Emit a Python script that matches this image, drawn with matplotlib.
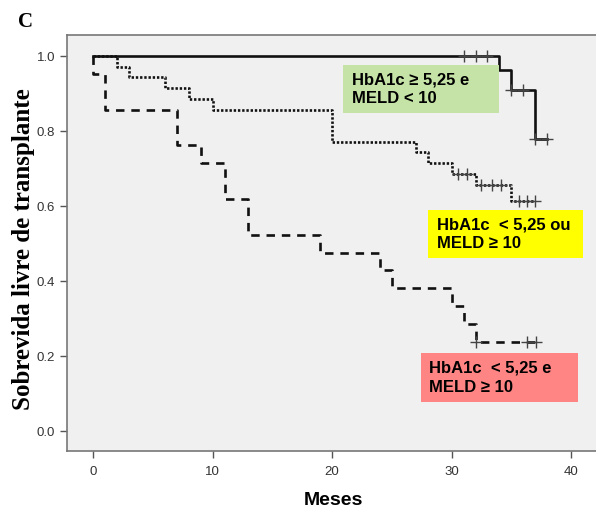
import numpy as np
import matplotlib
matplotlib.use("Agg")
import matplotlib.pyplot as plt

# Kaplan-Meier curves: event times (months) and survival after each event
solid_times = [34, 35, 37]
solid_surv = [0.963, 0.909, 0.78]
solid_cens = [31, 32, 33, 35, 36, 37, 38]
solid_end = 38

dot_times = [2, 3, 6, 8, 10, 20, 27, 28, 30, 32, 35]
dot_surv = [0.971, 0.943, 0.914, 0.886, 0.857, 0.771, 0.743, 0.714, 0.686, 0.657, 0.614]
dot_cens = [30.5, 31.3, 32.5, 33.4, 34.1, 35.6, 36.3, 37.0]
dot_end = 37

dash_times = [0, 1, 7, 9, 11, 13, 19, 24, 25, 30, 31, 32]
dash_surv = [0.952, 0.857, 0.762, 0.714, 0.619, 0.524, 0.476, 0.429, 0.381, 0.333, 0.286, 0.238]
dash_cens = [32.0, 36.3, 37.1]
dash_end = 37.1

group_labels = ["HbA1c \u2265 5,25 e\nMELD < 10",
                "HbA1c  < 5,25 ou\nMELD \u2265 10",
                "HbA1c  < 5,25 e\nMELD \u2265 10"]
box_colors = ["#c5e3a6", "#ffff00", "#ff8585"]

plt.rcParams['font.family'] = ['Liberation Sans', 'DejaVu Sans']

fig = plt.figure(figsize=(5.96, 5.12), dpi=100)
ax = fig.add_axes([0.1124, 0.119, 0.894, 0.8125])
ax.set_facecolor('#f0f0f0')


def km_curve(times, surv, cens, end, **kw):
    x = np.concatenate([[0], times, [end]])
    y = np.concatenate([[1.0], surv, [surv[-1]]])
    ax.step(x, y, where='post', color='#111111', lw=1.9, **kw)
    # survival level at each censor time
    idx = np.searchsorted(times, cens, side='right') - 1
    cy = np.where(idx >= 0, np.array(surv)[np.clip(idx, 0, None)], 1.0)
    ax.plot(cens, cy, '+', color='#444444', ms=8, mew=1.0, zorder=4)


km_curve(solid_times, solid_surv, solid_cens, solid_end, ls='-')
km_curve(dot_times, dot_surv, dot_cens, dot_end, ls=(0, (0.9, 0.7)))
km_curve(dash_times, dash_surv, dash_cens, dash_end, ls=(0, (3.2, 2.6)))

# coloured group labels: (left, bottom, right, top) in data units
label_boxes = [(20.9, 0.848, 34.0, 0.976),
               (28.0, 0.461, 41.0, 0.589),
               (27.4, 0.077, 40.6, 0.208)]
for (x0, y0, x1, y1), txt, c in zip(label_boxes, group_labels, box_colors):
    ax.add_patch(plt.Rectangle((x0, y0), x1 - x0, y1 - y0, facecolor=c, edgecolor='none', zorder=5))
    ax.text(x0 + 0.75, (y0 + y1) / 2, txt, ha='left', va='center', fontsize=12,
            fontweight='bold', linespacing=1.3, zorder=6)

ax.set_xlim(-2.18, 42.4)
ax.set_ylim(-0.053, 1.056)
ax.set_xticks([0, 10, 20, 30, 40])
ax.set_yticks([0.0, 0.2, 0.4, 0.6, 0.8, 1.0])
ax.set_yticklabels(['0.0', '0.2', '0.4', '0.6', '0.8', '1.0'])
ax.tick_params(labelsize=9.5, labelcolor='#333333', color='#555555', length=5, width=1)
ax.tick_params(axis='x', pad=6)
for side in ['left', 'bottom', 'top']:
    ax.spines[side].set_color('#777777')
    ax.spines[side].set_linewidth(1.2)
ax.spines['right'].set_visible(False)

ax.set_xlabel('Meses', fontsize=14, fontweight='bold', labelpad=10)
fig.text(0.040, 0.514, 'Sobrevida livre de transplante', rotation=90, ha='center', va='center',
         fontsize=18, fontweight='bold', family=['Liberation Serif', 'DejaVu Serif'])
fig.text(0.030, 0.958, 'C', ha='left', va='center', fontsize=15, fontweight='bold',
         family=['Liberation Serif', 'DejaVu Serif'])

fig.savefig('out.png', dpi=100)
